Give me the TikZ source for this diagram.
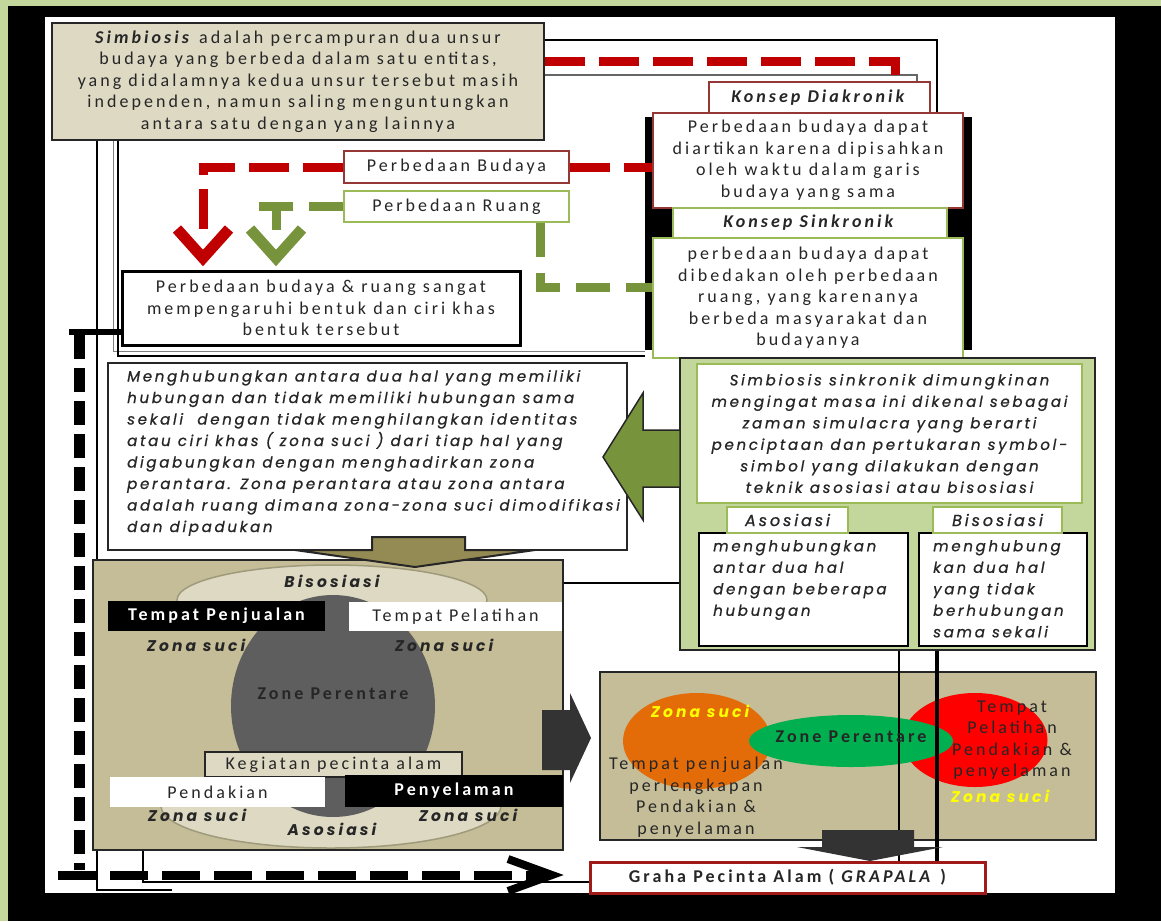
\documentclass[tikz,border=0pt]{standalone}
\usepackage{fontspec}
\usetikzlibrary{shapes.geometric}
\newfontfamily\fcal{Carlito}[LetterSpace=17]
\newfontfamily\fgth{Poppins}[LetterSpace=18, FakeBold=0.8]
\newfontfamily\fgtb{Poppins}[LetterSpace=20]
\definecolor{tanL}{HTML}{DDD9C3}
\definecolor{tanD}{HTML}{C4BD97}
\definecolor{dred}{HTML}{953735}
\definecolor{gred}{HTML}{A01A1A}
\definecolor{rdash}{HTML}{C00000}
\definecolor{olive}{HTML}{77933C}
\definecolor{oliveL}{HTML}{9BBB59}
\definecolor{gbg}{HTML}{C3D69B}
\definecolor{txt}{HTML}{262626}
\definecolor{orng}{HTML}{E36C09}
\definecolor{grn}{HTML}{00B050}
\definecolor{ylw}{HTML}{FFFF00}
\definecolor{tanA}{HTML}{948A54}
\definecolor{dgray}{HTML}{333333}
\definecolor{egray}{HTML}{5E5E5E}
\definecolor{eedge}{HTML}{A09A7C}
\pgfdeclarelayer{back}
\pgfdeclarelayer{bg}
\pgfdeclarelayer{front}
\pgfsetlayers{back,bg,main,front}
\begin{document}
\begin{tikzpicture}[x=1pt,y=-1pt,
  box/.style={draw, fill=white, inner sep=0pt, text=txt},
  tc/.style={font=\fcal\fontsize{18}{21.5}\selectfont, text=txt, align=center, inner sep=0pt},
  tcb/.style={font=\fcal\bfseries\fontsize{18}{21.5}\selectfont, text=txt, align=center, inner sep=0pt},
  tg/.style={font=\fgth\itshape\fontsize{15}{21.5}\selectfont, text=txt, inner sep=0pt},
  tgl/.style={font=\fgth\itshape\fontsize{16}{21.5}\selectfont, text=txt, inner sep=0pt},
  tgb/.style={font=\fgtb\bfseries\itshape\fontsize{15.5}{21.5}\selectfont, text=txt, inner sep=0pt},
  rd/.style={rdash, line width=9pt, dash pattern=on 40pt off 14pt},
  gd/.style={olive, line width=9pt, dash pattern=on 34pt off 16pt},
  bdh/.style={black, line width=9pt, dash pattern=on 38pt off 14pt},
  bdv/.style={black, line width=11pt, dash pattern=on 24pt off 9pt},
  chev/.style={line width=11pt, line join=miter},
]
\useasboundingbox (0,0) rectangle (1161,921);
\begin{pgfonlayer}{back}
\fill[gbg] (0,0) rectangle (1161,921);
\fill[black] (8,6) rectangle (1161,921);
\fill[white] (45,17) rectangle (1115,893);
\end{pgfonlayer}

% ---------- top part ----------
\node[box, fill=tanL, draw=txt, line width=2pt, minimum width=492pt, minimum height=117pt, tc] (simb) at (298,81.5)
 {\textbf{\textit{Simbiosis}} adalah percampuran dua unsur\\budaya yang berbeda dalam satu entitas,\\yang didalamnya kedua unsur tersebut masih\\independen, namun saling menguntungkan\\antara satu dengan yang lainnya};
\node[box, draw=dred, line width=1.5pt, minimum width=221pt, minimum height=31pt, tcb] (diak) at (819.5,97.5) {\textit{Konsep Diakronik}};
\node[box, draw=dred, line width=1.5pt, minimum width=310pt, minimum height=95pt, tc] (diakt) at (808,160.5)
 {Perbedaan budaya dapat\\diartikan karena dipisahkan\\oleh waktu dalam garis\\budaya yang sama};
\node[box, draw=oliveL, line width=1.5pt, minimum width=274pt, minimum height=30pt, tcb] (sink) at (810,223) {\textit{Konsep Sinkronik}};
\node[box, draw=oliveL, line width=1.5pt, minimum width=310pt, minimum height=120pt, tc] (sinkt) at (808,298)
 {perbedaan budaya dapat\\dibedakan oleh perbedaan\\ruang, yang karenanya\\berbeda masyarakat dan\\budayanya};
\node[box, draw=dred, line width=1.2pt, minimum width=225pt, minimum height=32pt, tc] (pbud) at (456.5,167) {Perbedaan Budaya};
\node[box, draw=oliveL, line width=1.5pt, minimum width=225pt, minimum height=31pt, tc] (prua) at (456.5,206.5) {Perbedaan Ruang};
\node[box, draw=black, line width=3pt, minimum width=398pt, minimum height=74pt, tc] (pbr) at (321,308)
 {Perbedaan budaya \& ruang sangat\\mempengaruhi bentuk dan ciri khas\\bentuk tersebut};

% ---------- middle ----------
\node[box, draw=txt, line width=2pt, minimum width=519pt, minimum height=187pt] (ltb) at (367.5,456.5) {};
\node[tg, align=left, anchor=west] (ltx) at (127,453)
 {Menghubungkan antara dua hal yang memiliki\\hubungan dan tidak memiliki hubungan sama\\sekali\ \ dengan tidak menghilangkan identitas\\atau ciri khas ( zona suci ) dari tiap hal yang\\digabungkan dengan menghadirkan zona\\perantara. Zona perantara atau zona antara\\adalah ruang dimana zona-zona suci dimodifikasi\\dan dipadukan};

\node[box, fill=gbg, draw=txt, line width=2pt, minimum width=415pt, minimum height=292pt] (gbox) at (887.5,504) {};
\node[box, draw=oliveL, line width=2pt, minimum width=385pt, minimum height=139pt, tg, align=center] (ssk) at (889.5,433.5)
 {Simbiosis sinkronik dimungkinan\\mengingat masa ini dikenal sebagai\\zaman simulacra yang berarti\\penciptaan dan pertukaran symbol-\\simbol yang dilakukan dengan\\teknik asosiasi atau bisosiasi};
\node[box, draw=black, line width=2pt, minimum width=209pt, minimum height=113pt] (asob) at (803.5,589.5) {};
\node[box, draw=black, line width=2pt, minimum width=168pt, minimum height=113pt] (bisb) at (1003,589.5) {};
\node[box, draw=oliveL, line width=1.5pt, minimum width=121pt, minimum height=26pt, tgl] (asot) at (787.5,520) {Asosiasi};
\node[box, draw=oliveL, line width=1.5pt, minimum width=129pt, minimum height=26pt, tgl] (bist) at (997.5,520) {Bisosiasi};
\node[tg, align=left, anchor=north west] (asox) at (713,540) {menghubungkan\\antar dua hal\\dengan beberapa\\hubungan};
\node[tg, align=left, anchor=north west] (bisx) at (933,540) {menghubung\\kan dua hal\\yang tidak\\berhubungan\\sama sekali};

% ---------- lower left ----------
\node[box, fill=tanD, draw=txt, line width=2pt, minimum width=470pt, minimum height=290pt] (tanl) at (328,705) {};
\node[ellipse, fill=tanL, draw=eedge, line width=1.5pt, minimum width=310pt, minimum height=70pt, inner sep=0pt] (etop) at (332,600) {};
\node[ellipse, fill=tanL, draw=eedge, line width=1.5pt, minimum width=340pt, minimum height=84pt, inner sep=0pt] (ebot) at (331,806) {};
\node[ellipse, fill=egray, minimum width=204pt, minimum height=222pt, inner sep=0pt] (egry) at (333,706) {};
\node[tgb] (lbis) at (332,581) {Bisosiasi};
\node[fill=black, minimum width=217pt, minimum height=30pt, tcb, text=white] (tpj) at (216.5,616) {Tempat Penjualan};
\node[fill=white, minimum width=213pt, minimum height=29pt, tc] (tpl) at (455.5,616.5) {Tempat Pelatihan};
\node[tgb] (zs1) at (196,645) {Zona suci};
\node[tgb] (zs2) at (444,645) {Zona suci};
\node[tcb] (zp1) at (333,694) {Zone Perentare};
\node[fill=tanL, draw=txt, line width=1.5pt, minimum width=257pt, minimum height=25pt, tc] (keg) at (333.5,764.5) {Kegiatan pecinta alam};
\node[fill=white, minimum width=215pt, minimum height=30pt, tc] (pdk) at (217.5,792) {Pendakian};
\node[fill=black, minimum width=218pt, minimum height=32pt, tcb, text=white] (pny) at (454,791) {Penyelaman};
\node[tgb] (zs3) at (197,815) {Zona suci};
\node[tgb] (zs4) at (468,815) {Zona suci};
\node[tgb] (laso) at (332,829) {Asosiasi};

% ---------- lower right ----------
\node[box, fill=tanD, draw=txt, line width=2pt, minimum width=496pt, minimum height=168pt] (tanr) at (848,756) {};
\node[ellipse, fill=orng, minimum width=148pt, minimum height=96pt, inner sep=0pt] (eor) at (697,741) {};
\node[ellipse, fill=red, minimum width=145pt, minimum height=94pt, inner sep=0pt] (erd) at (975,740) {};
\node[ellipse, fill=grn, minimum width=204pt, minimum height=52pt, inner sep=0pt] (egr) at (851,741) {};
\draw[black, line width=1.5pt] (gbox.south -| 899,0) -- (899,863);
\draw[black, line width=3.5pt] (gbox.south -| 937,0) -- (937,863);
\node[tgb, text=ylw] (zs5) at (700,711) {Zona suci};
\node[tc] (tpr) at (696,797) {Tempat penjualan\\perlengkapan\\Pendakian \&\\penyelaman};
\node[tcb] (zp2) at (851,737) {Zone Perentare};
\node[tc] (tpl2) at (1012,740) {Tempat\\Pelatihan\\Pendakian \&\\penyelaman};
\node[tgb, text=ylw] (zs6) at (1000,796) {Zona suci};

\node[box, draw=gred, line width=3pt, minimum width=395pt, minimum height=31pt, tcb] (gra) at (787.5,877.5) {Graha Pecinta Alam ( \textit{GRAPALA} )};

% ---------- background lines ----------
\begin{pgfonlayer}{bg}
\draw[gray, line width=1pt] (simb.south -| 113,0) -- (113,351) -- (645,351);
\draw[black, line width=1.5pt] (simb.south -| 118,0) -- (118,356) -- (645,356);
\draw[black, line width=2.5pt] (simb.south -| 97,0) -- (97,890) -- (172,890);
\draw[black, line width=2.2pt] (simb.east |- 0,40) -- (937,40) -- (937,650);
\draw[gray!80!black, line width=2pt] (simb.east |- 0,75) -- (917,75) -- (diak.north -| 917,0);
\draw[black, line width=1.5pt] (tanl.south -| 143,0) -- (143,882) -- (gra.west |- 0,882);
\draw[black, line width=1.5pt] (tanl.east |- 0,583) -- (gbox.west |- 0,583);
\fill[black] (645,117) rectangle (972,350);
\end{pgfonlayer}

% ---------- dashed connectors ----------
\draw[rd] (simb.east |- 0,61) -- (895,61) -- (diak.north -| 895,0);
\draw[rd] (pbud.west) -- (203,167) -- (203,230);
\draw[rdash, chev] (177,229) -- (203,258) -- (229,229);
\draw[rd] (pbud.east) -- (diakt.west |- pbud.east);
\draw[gd] (prua.west) -- (254,206.5);
\draw[olive, line width=9pt] (276,206.5) -- (276,230);
\draw[olive, chev] (250,229) -- (276,258) -- (302,229);
\draw[gd] (prua.south -| 540,0) -- (540,287) -- (sinkt.west |- 0,287);
\draw[black, line width=6pt] (69,332) -- (pbr.west |- 0,332);
\draw[bdv] (79,335) -- (79,870);
\draw[bdh] (58,875) -- (540,875);
\draw[black, line width=8pt, line join=miter] (508,859) -- (552,875) -- (508,891);

% ---------- block arrows ----------
\begin{pgfonlayer}{front}
\filldraw[fill=tanA, draw=txt, line width=2pt] (372,537) -- (465,537) -- (465,550) -- (535,550) -- (415,567) -- (295,550) -- (372,550) -- cycle;
\filldraw[fill=olive, draw=black!85, line width=1.5pt] (680,430) -- (643,430) -- (643,393) -- (603,457) -- (643,520) -- (643,487) -- (680,487) -- cycle;
\fill[dgray] (542,710) -- (570,710) -- (570,693) -- (591,738) -- (570,783) -- (570,770) -- (542,770) -- cycle;
\fill[dgray] (822,830) -- (914,830) -- (914,847) -- (943,847) -- (870,861) -- (797,847) -- (822,847) -- cycle;
\end{pgfonlayer}
\end{tikzpicture}
\end{document}
